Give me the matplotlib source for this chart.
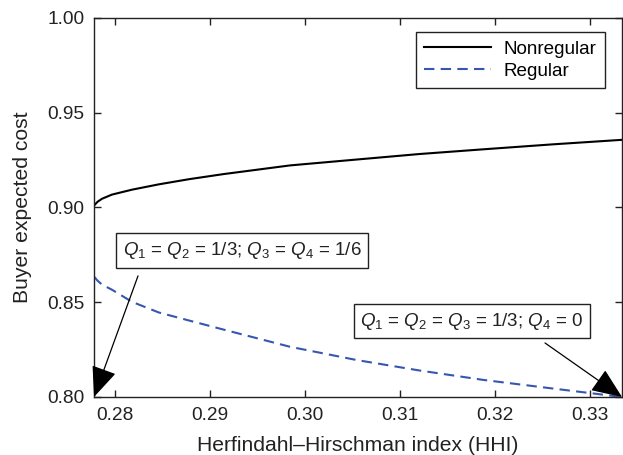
import matplotlib
matplotlib.use("Agg")
import matplotlib.pyplot as plt

plt.rcParams["font.family"] = ["Liberation Sans", "DejaVu Sans"]
plt.rcParams["mathtext.fontset"] = "custom"
plt.rcParams["mathtext.rm"] = "Liberation Sans"
plt.rcParams["mathtext.it"] = "Liberation Sans:italic"

# Herfindahl-Hirschman index values
hhi = [0.27778, 0.27815, 0.27862, 0.27967, 0.28178, 0.28459, 0.28774,
       0.29138, 0.29840, 0.30541, 0.31200, 0.31875, 0.32600, 0.33333]
# Buyer expected cost for each contract type
nonregular = [0.9010, 0.9030, 0.9046, 0.9068, 0.9094, 0.9122, 0.9149,
              0.9176, 0.9222, 0.9253, 0.9282, 0.9307, 0.9333, 0.9357]
regular = [0.8635, 0.8614, 0.8593, 0.8566, 0.8502, 0.8446, 0.8404,
           0.8356, 0.8265, 0.8195, 0.8140, 0.8090, 0.8045, 0.8000]

x_ticks = [0.28, 0.29, 0.30, 0.31, 0.32, 0.33]
y_ticks = [0.80, 0.85, 0.90, 0.95, 1.00]

label_left = r"$Q_1$ = $Q_2$ = 1/3; $Q_3$ = $Q_4$ = 1/6"
label_right = r"$Q_1$ = $Q_2$ = $Q_3$ = 1/3; $Q_4$ = 0"

ink = "#222222"

fig = plt.figure(figsize=(6.23, 4.55), dpi=100)
ax = fig.add_axes([0.1509, 0.1275, 0.8475, 0.833])

ax.plot(hhi, nonregular, color="black", lw=1.5, label="Nonregular")
ax.plot(hhi, regular, color="#3557b0", lw=1.5, ls=(0, (5, 3)), label="Regular")

ax.set_xlim(hhi[0], hhi[-1])
ax.set_ylim(0.80, 1.00)
ax.set_xticks(x_ticks)
ax.set_xticklabels([f"{v:.2f}" for v in x_ticks])
ax.set_yticks(y_ticks)
ax.set_yticklabels([f"{v:.2f}" for v in y_ticks])
ax.tick_params(direction="in", length=5, width=1, top=True, right=True,
               labelsize=13.8, pad=7, colors=ink, labelcolor=ink)
for s in ax.spines.values():
    s.set_linewidth(1)
    s.set_color(ink)

ax.set_xlabel("Herfindahl\u2013Hirschman index (HHI)", fontsize=15.2,
              color=ink, labelpad=9)
ax.set_ylabel("Buyer expected cost", fontsize=15.2, color=ink, labelpad=11)

leg = ax.legend(loc="upper right", bbox_to_anchor=(0.968, 0.963),
                fontsize=13.6, handlelength=3.5, handletextpad=0.7,
                fancybox=False, framealpha=1, borderpad=0.45,
                labelspacing=0.25, borderaxespad=0)
leg.get_frame().set_edgecolor(ink)
leg.get_frame().set_linewidth(1)

box = dict(boxstyle="square,pad=0.35", fc="white", ec=ink, lw=1)
ax.text(0.281, 0.3865, label_left, transform=ax.transAxes, ha="center",
        va="center", fontsize=13.5, bbox=box, color=ink)
ax.text(0.716, 0.2, label_right, transform=ax.transAxes, ha="center",
        va="center", fontsize=13.5, bbox=box, color=ink)

arrow = dict(arrowstyle="-|>,head_length=1.2,head_width=0.5", color="black",
             lw=0.9, shrinkA=0, shrinkB=0, mutation_scale=16)
ax.annotate("", xy=(hhi[0], 0.80), xytext=(0.28241, 0.8639),
            arrowprops=arrow, annotation_clip=False)
ax.annotate("", xy=(hhi[-1], 0.80), xytext=(0.32523, 0.8285),
            arrowprops=arrow, annotation_clip=False)

fig.savefig("out.png", dpi=100)
